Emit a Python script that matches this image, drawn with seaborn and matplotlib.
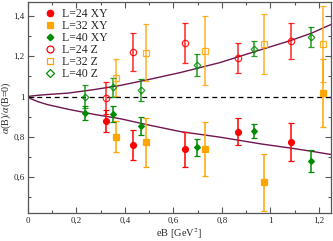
import matplotlib
matplotlib.use("Agg")
import matplotlib.pyplot as plt
import numpy as np
import pandas as pd
import seaborn as sns
from matplotlib.lines import Line2D
from matplotlib.ticker import FuncFormatter, MultipleLocator

# eB values [GeV^2] per lattice size
EB_L24 = [0.323, 0.432, 0.648, 0.865, 1.083]
EB_L32 = [0.364, 0.486, 0.731, 0.975, 1.219]
EB_L40 = [0.235, 0.350, 0.468, 0.699, 0.934, 1.167]

L24_XY = [0.879, 0.760, 0.737, 0.826, 0.775]
L24_XY_ERR = [0.055, 0.074, 0.087, 0.065, 0.095]
L32_XY = [0.800, 0.772, 0.739, 0.575, 1.017]
L32_XY_ERR = [0.077, 0.122, 0.133, 0.142, 0.170]
L40_XY = [0.917, 0.913, 0.855, 0.749, 0.828, 0.679]
L40_XY_ERR = [0.035, 0.041, 0.045, 0.042, 0.036, 0.053]

L24_Z = [0.992, 1.222, 1.265, 1.192, 1.275]
L24_Z_ERR = [0.080, 0.094, 0.099, 0.074, 0.090]
L32_Z = [1.094, 1.218, 1.228, 1.262, 1.260]
L32_Z_ERR = [0.090, 0.140, 0.170, 0.150, 0.190]
L40_Z = [1.000, 1.047, 1.033, 1.157, 1.238, 1.296]
L40_Z_ERR = [0.055, 0.047, 0.055, 0.053, 0.037, 0.051]

# fit curves
CURVE_X = [0.0, 0.01, 0.04, 0.08, 0.165, 0.27, 0.38, 0.50, 0.628, 0.793, 0.959, 1.083, 1.17, 1.25]
CURVE_UP = [1.0, 1.002, 1.006, 1.010, 1.017, 1.034, 1.055, 1.085, 1.119, 1.169, 1.232, 1.278, 1.315, 1.358]
CURVE_LOW = [1.0, 0.990, 0.975, 0.960, 0.937, 0.912, 0.890, 0.858, 0.826, 0.798, 0.765, 0.744, 0.728, 0.712]

RED = "#ff0000"
ORANGE = "#ffa500"
GREEN = "#008c00"
CURVE_COLOR = "#6e1650"

sns.set_theme(style="ticks")
plt.rcParams["font.family"] = ["Liberation Serif", "DejaVu Serif"]
plt.rcParams["mathtext.fontset"] = "stix"

fig = plt.figure(figsize=(3.33, 2.41), dpi=100)
ax = fig.add_axes([0.084, 0.115, 0.91, 0.877])

curves = pd.DataFrame({"eB": CURVE_X, "up": CURVE_UP, "low": CURVE_LOW})
sns.lineplot(data=curves, x="eB", y="up", color=CURVE_COLOR, lw=1.0, ax=ax)
sns.lineplot(data=curves, x="eB", y="low", color=CURVE_COLOR, lw=1.0, ax=ax)
ax.axhline(1.0, color="black", lw=0.9, ls=(0, (4, 3)))

series = [
    ("L=24 XY", EB_L24, L24_XY, L24_XY_ERR, RED, "o", True, 4.2),
    ("L=32 XY", EB_L32, L32_XY, L32_XY_ERR, ORANGE, "s", True, 3.8),
    ("L=40 XY", EB_L40, L40_XY, L40_XY_ERR, GREEN, "D", True, 3.0),
    ("L=24 Z", EB_L24, L24_Z, L24_Z_ERR, RED, "o", False, 4.6),
    ("L=32 Z", EB_L32, L32_Z, L32_Z_ERR, ORANGE, "s", False, 4.2),
    ("L=40 Z", EB_L40, L40_Z, L40_Z_ERR, GREEN, "D", False, 3.4),
]

handles = []
for label, xs, ys, errs, color, marker, filled, ms in series:
    face = color if filled else "none"
    ax.errorbar(
        xs, ys, yerr=errs, fmt=marker, color=color, ecolor=color,
        mfc=face, mec=color, mew=0.9, ms=ms,
        elinewidth=1.1, capsize=2.0, capthick=0.9, alpha=0.85 if not filled else 1.0,
    )
    handles.append(Line2D([], [], ls="none", marker=marker, color=color,
                          mfc=face, mec=color, mew=0.9, ms=ms + 0.4, label=label))

ax.set_xlim(0, 1.25)
ax.set_ylim(0.42, 1.47)
ax.xaxis.set_major_locator(MultipleLocator(0.2))
ax.xaxis.set_minor_locator(MultipleLocator(0.1))
ax.yaxis.set_major_locator(MultipleLocator(0.2))
ax.yaxis.set_minor_locator(MultipleLocator(0.1))


def comma_fmt(v, pos):
    s = f"{v:.1f}"
    if s.endswith(".0"):
        s = s[:-2]
    return s.replace(".", ",")


ax.xaxis.set_major_formatter(FuncFormatter(comma_fmt))
ax.yaxis.set_major_formatter(FuncFormatter(comma_fmt))
ax.tick_params(which="both", direction="in", top=True, right=True, labelsize=6.5,
               color="#555555", pad=2.5)
ax.tick_params(which="major", length=4, width=0.8)
ax.tick_params(which="minor", length=2.5, width=0.8)
for sp in ax.spines.values():
    sp.set_color("#555555")
    sp.set_linewidth(0.9)

ax.set_xlabel(r"eB [GeV$^2$]", fontsize=7.5, labelpad=1)
ax.set_ylabel(r"$\alpha$(B)/$\alpha$(B=0)", fontsize=7.2)
ax.yaxis.set_label_coords(-0.05, 0.5)

ax.legend(handles=handles, loc="upper left", frameon=False, fontsize=8.5,
          handlelength=1.0, handletextpad=0.5, labelspacing=0.0,
          borderaxespad=0.1, bbox_to_anchor=(0.035, 1.0))

fig.savefig("out.png", dpi=100)
